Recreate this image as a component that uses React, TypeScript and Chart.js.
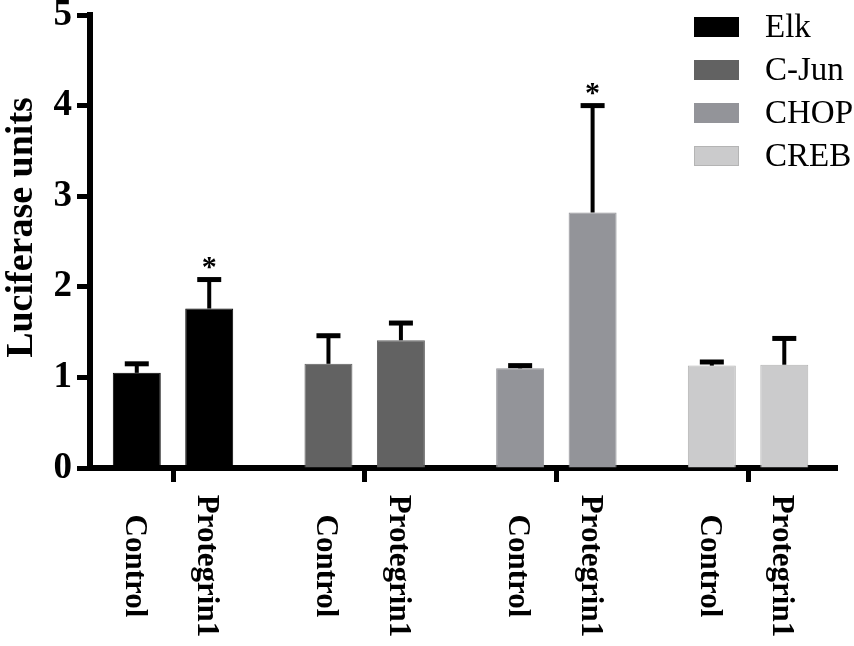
import { useEffect, useRef } from 'react';
import { Chart, registerables } from 'chart.js';

Chart.register(...registerables);

// ---- data ----
const genes = ['Elk', 'C-Jun', 'CHOP', 'CREB'];
const treatments = ['Control', 'Protegrin1'];
const controlMeans = [1.05, 1.15, 1.1, 1.13];
const controlSem = [0.1, 0.31, 0.03, 0.04];
const protegrinMeans = [1.76, 1.41, 2.82, 1.14];
const protegrinSem = [0.32, 0.19, 1.18, 0.29];
const protegrinSignificant = [true, false, true, false];
const yTicks = [0, 1, 2, 3, 4, 5];
const yTitle = 'Luciferase units';

// ---- styles ----
const geneColors = ['#000000', '#626262', '#939499', '#cbcbcc'];
const geneBorderColors = ['#000000', '#626262', '#939499', '#b4b4b4'];
const SERIF = "'Liberation Serif', 'Times New Roman', serif";

const means = [controlMeans, protegrinMeans];
const sems = [controlSem, protegrinSem];

const overlayPlugin = {
  id: 'overlay',
  afterDatasetsDraw(chart: any) {
    const ctx = chart.ctx as CanvasRenderingContext2D;
    const yScale = chart.scales.y;
    chart.data.datasets.forEach((_ds: any, di: number) => {
      const meta = chart.getDatasetMeta(di);
      meta.data.forEach((bar: any, i: number) => {
        const top = yScale.getPixelForValue(means[di][i]);
        const cap = yScale.getPixelForValue(means[di][i] + sems[di][i]);
        ctx.save();
        ctx.strokeStyle = '#000';
        ctx.lineWidth = 4;
        ctx.beginPath();
        ctx.moveTo(bar.x, top);
        ctx.lineTo(bar.x, cap);
        ctx.stroke();
        ctx.lineWidth = 5;
        ctx.beginPath();
        ctx.moveTo(bar.x - 12, cap);
        ctx.lineTo(bar.x + 12, cap);
        ctx.stroke();
        if (di === 1 && protegrinSignificant[i]) {
          ctx.fillStyle = '#000';
          ctx.font = `bold 30px ${SERIF}`;
          ctx.textAlign = 'center';
          ctx.textBaseline = 'alphabetic';
          ctx.fillText('*', bar.x, cap - 4);
        }
        ctx.restore();
      });
    });
  },
  afterDraw(chart: any) {
    const ctx = chart.ctx as CanvasRenderingContext2D;
    const area = chart.chartArea;
    // x category labels (rotated clockwise)
    chart.data.datasets.forEach((_ds: any, di: number) => {
      const meta = chart.getDatasetMeta(di);
      meta.data.forEach((bar: any) => {
        ctx.save();
        ctx.translate(bar.x - 3, area.bottom + 98);
        ctx.rotate(Math.PI / 2);
        ctx.fillStyle = '#000';
        ctx.font = `bold 31px ${SERIF}`;
        ctx.textAlign = 'center';
        ctx.textBaseline = 'middle';
        ctx.fillText(treatments[di], 0, 0);
        ctx.restore();
      });
    });
    // y title
    ctx.save();
    ctx.translate(32, (area.top + area.bottom) / 2 - 14);
    ctx.rotate(-Math.PI / 2);
    ctx.fillStyle = '#000';
    ctx.font = `bold 38px ${SERIF}`;
    ctx.textAlign = 'center';
    ctx.textBaseline = 'alphabetic';
    ctx.fillText(yTitle, 0, 0);
    ctx.restore();
    // legend
    const boxX = area.right - 143;
    const boxW = 45;
    const boxH = 20;
    const textX = boxX + 71;
    genes.forEach((g, i) => {
      const cy = area.top + 12 + i * 43;
      ctx.save();
      ctx.fillStyle = geneColors[i];
      ctx.fillRect(boxX, cy - boxH / 2, boxW, boxH);
      ctx.strokeStyle = geneBorderColors[i];
      ctx.lineWidth = 1;
      ctx.strokeRect(boxX + 0.5, cy - boxH / 2 + 0.5, boxW - 1, boxH - 1);
      ctx.fillStyle = '#000';
      ctx.font = `33px ${SERIF}`;
      ctx.textAlign = 'left';
      ctx.textBaseline = 'middle';
      ctx.fillText(g, textX, cy + 1);
      ctx.restore();
    });
  },
};

export default function App() {
  const canvasRef = useRef<HTMLCanvasElement | null>(null);

  useEffect(() => {
    if (!canvasRef.current) return;
    const chart = new Chart(canvasRef.current, {
      type: 'bar',
      data: {
        datasets: treatments.map((t, ti) => ({
          label: t,
          data: genes.map((_g, gi) => ({ x: gi, y: means[ti][gi] })),
          backgroundColor: geneColors,
          borderColor: geneBorderColors,
          borderWidth: 1,
          categoryPercentage: 0.756,
          barPercentage: 0.662,
        })),
      },
      options: {
        animation: false,
        responsive: false,
        events: [],
        layout: { padding: { top: 15, right: 17, left: 0, bottom: 0 } },
        plugins: {
          legend: { display: false },
          tooltip: { enabled: false },
        },
        scales: {
          x: {
            type: 'linear',
            min: -0.433,
            max: 3.464,
            offset: false,
            z: 1,
            afterBuildTicks: (s: any) => {
              s.ticks = genes.map((_g, i) => ({ value: i }));
            },
            afterFit: (s: any) => {
              s.height = 178;
              s.paddingLeft = 0;
              s.paddingRight = 0;
            },
            ticks: { display: false },
            grid: {
              offset: false,
              drawOnChartArea: false,
              drawTicks: true,
              tickLength: 14,
              tickWidth: 5,
              tickColor: '#000',
            },
            border: { color: '#000', width: 6 },
          },
          y: {
            min: 0,
            max: 5,
            z: 1,
            afterBuildTicks: (s: any) => {
              s.ticks = yTicks.map((v) => ({ value: v }));
            },
            afterFit: (s: any) => {
              s.width = 90;
              s.paddingTop = 0;
              s.paddingBottom = 0;
            },
            ticks: {
              color: '#000',
              padding: 5,
              font: { family: SERIF, weight: 'bold', size: 37 },
            },
            grid: {
              drawOnChartArea: false,
              drawTicks: true,
              tickLength: 13,
              tickWidth: 5,
              tickColor: '#000',
            },
            border: { color: '#000', width: 6 },
          },
        },
      },
      plugins: [overlayPlugin],
    } as any);
    return () => chart.destroy();
  }, []);

  return (
    <div style={{ position: 'absolute', left: 0, top: 0, width: 854, height: 646, background: '#fff' }}>
      <canvas ref={canvasRef} width={854} height={646} />
    </div>
  );
}
